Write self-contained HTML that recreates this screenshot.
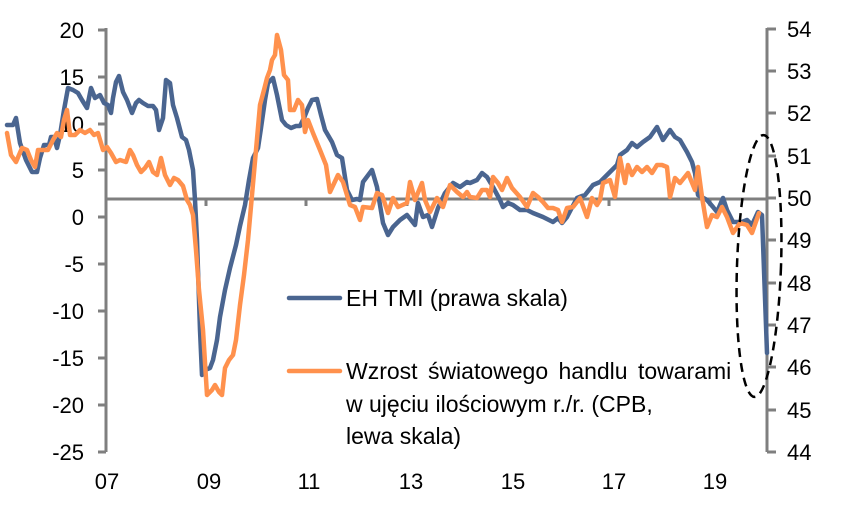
<!DOCTYPE html>
<html><head><meta charset="utf-8"><style>
body{margin:0;background:#fff}
svg text{font-family:"Liberation Sans",sans-serif;font-size:22px;fill:#000}
svg text.lg{font-size:23px}
</style></head><body>
<svg width="851" height="511" viewBox="0 0 851 511" xmlns="http://www.w3.org/2000/svg">
<g stroke="#7f7f7f" stroke-width="3" fill="none">
<line x1="106" y1="28" x2="106" y2="452"/>
<line x1="767" y1="28" x2="767" y2="452"/>
<line x1="106" y1="199" x2="767" y2="199"/>
<path d="M98 30H106M98 77H106M98 124H106M98 170H106M98 217H106M98 264H106M98 311H106M98 358H106M98 405H106M98 452H106"/>
<path d="M767 29H776M767 71H776M767 113H776M767 156H776M767 198H776M767 240H776M767 283H776M767 325H776M767 367H776M767 410H776M767 452H776"/>
<path d="M206 199V206M306 199V206M407 199V206M508 199V206M609 199V206M710 199V206"/>
</g>
<g text-anchor="end">
<text x="84" y="38">20</text><text x="84" y="85">15</text><text x="84" y="132">10</text><text x="84" y="178">5</text><text x="84" y="225">0</text><text x="84" y="272">-5</text><text x="84" y="319">-10</text><text x="84" y="366">-15</text><text x="84" y="413">-20</text><text x="84" y="460">-25</text>
</g>
<g>
<text x="787" y="37">54</text><text x="787" y="79">53</text><text x="787" y="121">52</text><text x="787" y="164">51</text><text x="787" y="206">50</text><text x="787" y="248">49</text><text x="787" y="291">48</text><text x="787" y="333">47</text><text x="787" y="375">46</text><text x="787" y="418">45</text><text x="787" y="460">44</text>
</g>
<g text-anchor="middle">
<text x="107" y="489">07</text><text x="209" y="489">09</text><text x="309" y="489">11</text><text x="411" y="489">13</text><text x="513" y="489">15</text><text x="614" y="489">17</text><text x="715" y="489">19</text>
</g>
<g fill="none" stroke-linejoin="round" stroke-linecap="round">
<path stroke="#4a6590" stroke-width="4.5" d="M7,125 13,125 16,118 20,143 26,160 32,172 37,172 40,158 44,145 49,145 51,137 54,137 57,148 60,135 64,110 68,88 73,90 78,93 82,100 87,108 91,88 95,98 100,95 104,103 108,105 111,113 113,98 116,82 119,76 123,92 127,100 132,113 136,103 139,100 143,103 148,106 153,106 156,110 159,130 163,118 166,80 170,83 173,105 177,118 182,137 186,140 189,150 193,170 195,200 197,240 200,330 202,375 205,370 210,368 213,360 217,340 220,317 225,290 230,268 236,245 240,226 245,205 249,180 253,158 258,148 261,128 265,100 268,83 273,78 277,95 282,120 286,125 291,128 296,126 300,126 304,118 308,108 312,100 317,99 321,115 325,130 332,142 337,155 342,158 347,190 352,200 357,199 360,200 363,182 372,170 377,187 383,223 388,235 393,227 400,220 407,215 415,225 418,203 423,217 428,215 432,227 438,208 445,193 453,183 460,187 467,182 470,183 477,180 482,173 487,177 493,187 500,200 503,207 508,203 513,205 520,210 527,210 533,213 543,217 553,222 558,218 562,223 567,217 577,198 582,196 585,195 593,185 600,182 610,172 617,165 620,155 627,150 632,143 637,147 643,142 650,137 657,127 663,140 670,130 675,137 680,140 687,152 692,162 695,173 698,195 707,200 713,207 717,212 723,198 727,210 733,222 742,222 747,220 752,225 758,212 762,215 767,353"/>
<path stroke="#ff914d" stroke-width="4.5" d="M7,133 11,155 16,162 22,148 27,150 31,160 35,167 38,150 43,150 48,150 53,140 57,133 61,137 64,120 67,110 70,135 75,135 80,130 85,133 90,130 94,135 98,133 103,150 107,147 111,153 116,162 120,160 126,162 130,150 133,155 137,165 141,172 145,168 149,162 153,172 157,175 161,158 165,175 170,185 174,178 178,180 183,186 187,200 190,205 193,215 196,250 199,290 203,330 207,395 212,390 215,385 219,392 222,395 225,368 229,360 233,355 236,340 240,305 244,275 248,240 252,195 256,150 260,105 264,90 267,78 270,70 272,60 275,55 277,35 281,50 284,75 288,80 290,110 294,110 298,100 302,105 305,132 308,120 313,133 320,150 326,165 330,192 338,175 343,182 350,205 355,207 360,220 363,207 372,208 377,193 382,195 388,213 393,198 398,207 407,203 410,182 415,200 422,183 425,200 430,212 437,198 443,207 450,185 457,192 463,197 467,192 470,197 477,198 482,190 487,190 490,197 493,177 498,183 502,190 507,178 512,188 520,197 527,207 533,193 538,197 543,202 548,208 553,208 558,210 562,222 567,208 573,207 580,198 587,217 592,198 597,205 600,200 603,183 610,180 615,197 620,158 625,183 628,165 632,175 637,167 642,172 647,167 652,173 657,165 662,165 667,167 670,197 675,178 680,183 688,173 695,190 698,167 702,197 707,227 712,215 717,217 722,207 727,217 733,233 740,223 747,225 752,233 759,213"/>
</g>
<ellipse cx="759" cy="266" rx="22" ry="131" transform="rotate(2 759 266)" fill="none" stroke="#000" stroke-width="2.5" stroke-dasharray="9,6"/>
<line x1="289" y1="298" x2="340" y2="298" stroke="#4a6590" stroke-width="4.5" stroke-linecap="round"/>
<text class="lg" x="346" y="306">EH TMI (prawa skala)</text>
<line x1="289" y1="371" x2="340" y2="371" stroke="#ff914d" stroke-width="4.5" stroke-linecap="round"/>
<text class="lg" x="346" y="379" word-spacing="4">Wzrost światowego handlu towarami</text>
<text class="lg" x="346" y="412">w ujęciu ilościowym r./r. (CPB,</text>
<text class="lg" x="346" y="444">lewa skala)</text>
</svg>
</body></html>
